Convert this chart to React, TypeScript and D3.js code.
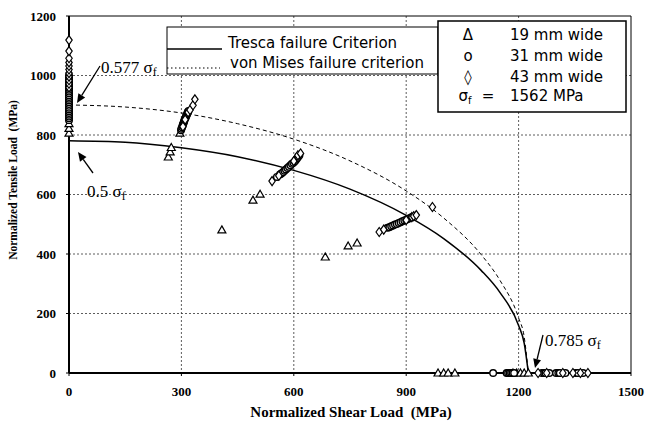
import React from "react";
import * as d3 from "d3";

// failure envelopes (MPa)
const envShear = [0, 150, 300, 450, 600, 750, 900, 1000, 1100, 1150, 1200, 1215, 1226];
const trescaTensile = [781, 776, 757, 727, 681, 618, 530, 452, 345, 271, 160, 100, 0];
const misesTensile = [901, 894, 874, 838, 786, 713, 612, 521, 398, 312, 185, 121, 0];

// 19 mm wide specimens (triangles)
const tri19: [number, number][] = [
  [0, 806], [0, 822], [0, 838],
  [265, 726], [270, 743], [273, 758], [296, 806],
  [408, 481], [491, 581], [510, 601],
  [684, 390], [745, 427], [769, 437],
  [985, 0], [1000, 0], [1012, 0], [1030, 0],
  [1185, 0], [1195, 0], [1205, 0], [1215, 0], [1226, 0],
];

// 31 mm wide specimens (circles)
const circ31: [number, number][] = [
  [0, 850], [0, 856], [0, 862], [0, 868], [0, 874], [0, 880], [0, 886], [0, 892],
  [0, 898], [0, 904], [0, 910], [0, 916], [0, 922], [0, 928], [0, 934], [0, 940],
  [0, 946], [0, 952], [0, 958], [0, 964], [0, 970], [0, 976], [0, 982], [0, 988],
  [0, 994], [0, 1000],
  [299, 816], [300, 821], [302, 826], [303, 831], [304, 836], [306, 840], [307, 845],
  [308, 849], [309, 853], [311, 857], [312, 861], [313, 865], [315, 869], [316, 873],
  [317, 877], [319, 881],
  [555, 659], [563, 667], [567, 671], [571, 675], [575, 680], [579, 684], [583, 689],
  [587, 693], [591, 698], [595, 703], [599, 707], [603, 712], [606, 717], [609, 722],
  [612, 727], [615, 732],
  [850, 488], [855, 490], [860, 493], [865, 496], [870, 499], [875, 501], [880, 504],
  [885, 507], [890, 510], [895, 513], [900, 515], [905, 518], [910, 521], [915, 524],
  [1132, 0], [1168, 0], [1172, 0], [1176, 0], [1180, 0], [1184, 0], [1188, 0],
  [1262, 0], [1268, 0], [1272, 0], [1282, 0], [1300, 0], [1306, 0], [1310, 0],
  [1325, 0], [1352, 0], [1358, 0], [1372, 0],
];

// 43 mm wide specimens (diamonds)
const dia43: [number, number][] = [
  [0, 960], [0, 972], [0, 984], [0, 996], [0, 1008], [0, 1020], [0, 1032], [0, 1044],
  [0, 1058], [0, 1082], [0, 1119],
  [304, 828], [310, 852], [318, 876], [323, 884], [331, 900], [336, 920],
  [542, 645], [560, 663], [600, 712], [611, 732], [618, 738],
  [828, 474], [840, 482], [900, 514], [915, 524], [920, 527], [927, 531],
  [970, 558],
  [1252, 0], [1275, 0], [1318, 0], [1345, 0], [1365, 0], [1385, 0],
];

const xTicks = [0, 300, 600, 900, 1200, 1500];
const yTicks = [0, 200, 400, 600, 800, 1000, 1200];

const W = 656;
const H = 421;
const m = { left: 69, right: 631, top: 16, bottom: 373 };

const x = d3.scaleLinear().domain([0, 1500]).range([m.left, m.right]);
const y = d3.scaleLinear().domain([0, 1200]).range([m.bottom, m.top]);

const times = "'Liberation Serif', 'Times New Roman', serif";
const sans = "'DejaVu Sans', Verdana, sans-serif";

const triPath = (cx: number, cy: number) =>
  `M${cx},${cy - 4}L${cx + 4},${cy + 3}L${cx - 4},${cy + 3}Z`;
const diaPath = (cx: number, cy: number) =>
  `M${cx},${cy - 4.5}L${cx + 3.2},${cy}L${cx},${cy + 4.5}L${cx - 3.2},${cy}Z`;

const Arrow = ({ x1, y1, x2, y2 }: { x1: number; y1: number; x2: number; y2: number }) => {
  const a = Math.atan2(y2 - y1, x2 - x1);
  const L = 9;
  const w = 4;
  const bx = x2 - L * Math.cos(a);
  const by = y2 - L * Math.sin(a);
  const px = -Math.sin(a) * w;
  const py = Math.cos(a) * w;
  return (
    <g>
      <line x1={x1} y1={y1} x2={bx} y2={by} stroke="#000" strokeWidth={1.3} />
      <path d={`M${x2},${y2}L${bx + px},${by + py}L${bx - px},${by - py}Z`} fill="#000" />
    </g>
  );
};

export default function App() {
  const line = d3
    .line<number>()
    .x((_, i) => x(envShear[i]))
    .y((d) => y(d))
    .curve(d3.curveMonotoneX);

  return (
    <svg
      width={W}
      height={H}
      style={{ position: "absolute", left: 0, top: 0, background: "#fff" }}
    >
      <rect width={W} height={H} fill="#fff" />
      {/* grid */}
      {xTicks.slice(1, -1).map((t) => (
        <line key={"gx" + t} x1={x(t)} x2={x(t)} y1={m.top} y2={m.bottom}
          stroke="#333" strokeWidth={0.8} strokeDasharray="2,2" />
      ))}
      {yTicks.slice(1, -1).map((t) => (
        <line key={"gy" + t} x1={m.left} x2={m.right} y1={y(t)} y2={y(t)}
          stroke="#333" strokeWidth={0.8} strokeDasharray="2,2" />
      ))}
      {/* frame */}
      <line x1={m.left} x2={m.right} y1={m.top} y2={m.top} stroke="#000" strokeWidth={1} />
      <line x1={m.right} x2={m.right} y1={m.top} y2={m.bottom} stroke="#000" strokeWidth={1} />

      {/* envelopes */}
      <path d={line(misesTensile) || ""} fill="none" stroke="#000" strokeWidth={1} strokeDasharray="4,3" />
      <path d={line(trescaTensile) || ""} fill="none" stroke="#000" strokeWidth={1.5} />

      {/* axes */}
      <line x1={m.left} x2={m.left} y1={m.top} y2={m.bottom} stroke="#000" strokeWidth={2} />
      <line x1={m.left} x2={m.right} y1={m.bottom} y2={m.bottom} stroke="#000" strokeWidth={2} />
      {yTicks.map((t) => (
        <g key={"ty" + t}>
          <line x1={m.left - 3} x2={m.left} y1={y(t)} y2={y(t)} stroke="#000" />
          <text x={m.left - 13} y={y(t) + 4.5} textAnchor="end" fontFamily={times}
            fontWeight="bold" fontSize={13}>{t}</text>
        </g>
      ))}
      {xTicks.map((t) => (
        <g key={"tx" + t}>
          <line x1={x(t)} x2={x(t)} y1={m.bottom} y2={m.bottom + 3} stroke="#000" />
          <text x={x(t)} y={396} textAnchor="middle" fontFamily={times}
            fontWeight="bold" fontSize={13}>{t}</text>
        </g>
      ))}
      <text x={351} y={417} textAnchor="middle" fontFamily={times} fontWeight="bold"
        fontSize={15} xmlSpace="preserve">Normalized Shear Load  (MPa)</text>
      <text transform="translate(17,180) rotate(-90)" textAnchor="middle" fontFamily={times}
        fontWeight="bold" fontSize={11.5} xmlSpace="preserve">Normalized Tensile Load  (MPa)</text>

      {/* data */}
      {tri19.map(([sx, ty], i) => (
        <path key={"t" + i} d={triPath(x(sx), y(ty))} fill="#fff" stroke="#000" strokeWidth={1.2} />
      ))}
      {circ31.map(([sx, ty], i) => (
        <circle key={"c" + i} cx={x(sx)} cy={y(ty)} r={3.3} fill="#fff" stroke="#000" strokeWidth={1.4} />
      ))}
      {dia43.map(([sx, ty], i) => (
        <path key={"d" + i} d={diaPath(x(sx), y(ty))} fill="#fff" stroke="#000" strokeWidth={1.2} />
      ))}

      {/* annotations */}
      <text x={101} y={73} fontFamily={times} fontSize={17}>
        0.577 σ<tspan fontSize={12} dy={3}>f</tspan>
      </text>
      <Arrow x1={100} y1={66} x2={77} y2={103} />
      <text x={87} y={197} fontFamily={times} fontSize={17}>
        0.5 σ<tspan fontSize={12} dy={3}>f</tspan>
      </text>
      <Arrow x1={93} y1={173} x2={78} y2={152} />
      <text x={545} y={346} fontFamily={times} fontSize={17}>
        0.785 σ<tspan fontSize={12} dy={3}>f</tspan>
      </text>
      <Arrow x1={543} y1={335} x2={535} y2={368} />

      {/* legend: criteria */}
      <rect x={167} y={27} width={271} height={47} fill="#fff" stroke="#000" strokeWidth={1} />
      <line x1={167} x2={222} y1={49} y2={49} stroke="#000" strokeWidth={1.5} />
      <line x1={167} x2={220} y1={68} y2={68} stroke="#000" strokeWidth={1.2} strokeDasharray="1.5,2.5" />
      <text x={228} y={48} fontFamily={sans} fontSize={15}>Tresca failure Criterion</text>
      <text x={230} y={68} fontFamily={sans} fontSize={15}>von Mises failure criterion</text>

      {/* legend: widths */}
      <rect x={438} y={21} width={188} height={91} fill="#fff" stroke="#000" strokeWidth={1.5} />
      <text x={468} y={40} textAnchor="middle" fontFamily={sans} fontSize={15}>Δ</text>
      <text x={468} y={61} textAnchor="middle" fontFamily={sans} fontSize={15}>o</text>
      <text x={468} y={82} textAnchor="middle" fontFamily={sans} fontSize={15}>◊</text>
      <text x={465} y={101} textAnchor="middle" fontFamily={sans} fontSize={15}>
        σ<tspan fontSize={10} dy={3}>f</tspan>
      </text>
      <text x={488} y={101} textAnchor="middle" fontFamily={sans} fontSize={15}>=</text>
      <text x={510} y={40} fontFamily={sans} fontSize={15}>19 mm wide</text>
      <text x={510} y={61} fontFamily={sans} fontSize={15}>31 mm wide</text>
      <text x={510} y={82} fontFamily={sans} fontSize={15}>43 mm wide</text>
      <text x={510} y={101} fontFamily={sans} fontSize={15}>1562 MPa</text>
    </svg>
  );
}
